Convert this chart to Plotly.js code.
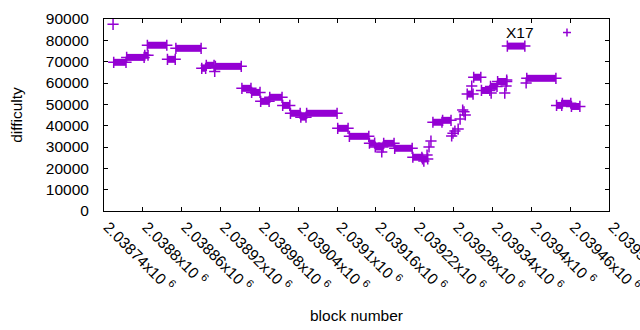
<!DOCTYPE html>
<html>
<head>
<meta charset="utf-8">
<script src="https://cdn.plot.ly/plotly-3.0.1.min.js"></script>
<style>html,body{margin:0;padding:0;background:#fff;}#chart{width:640px;height:330px;}</style>
</head>
<body>
<div id="chart"></div>
<script>
// Runs of (nearly) constant difficulty: first block, last block, difficulty
const runStart = [2038755, 2038775, 2038803, 2038807, 2038838, 2038851, 2038891, 2038898, 2038912, 2038953, 2038968, 2038982, 2038996, 2039016, 2039028, 2039044, 2039053, 2039101, 2039119, 2039150, 2039159, 2039172, 2039189, 2039217, 2039232, 2039248, 2039263, 2039301, 2039311, 2039323, 2039337, 2039348, 2039363, 2039393, 2039439, 2039448, 2039462];
const runEnd   = [2038774, 2038802, 2038808, 2038837, 2038850, 2038890, 2038897, 2038910, 2038952, 2038967, 2038981, 2038995, 2039015, 2039027, 2039043, 2039052, 2039100, 2039117, 2039149, 2039158, 2039171, 2039188, 2039216, 2039231, 2039240, 2039262, 2039276, 2039310, 2039322, 2039336, 2039347, 2039362, 2039390, 2039438, 2039447, 2039461, 2039475];
const runValue = [69700, 72000, 73000, 77700, 71100, 76250, 66900, 68300, 67800, 57500, 55600, 51400, 53300, 49500, 45800, 44000, 45800, 38750, 35000, 31800, 30000, 31700, 29400, 25200, 24400, 41600, 42500, 54800, 62700, 56500, 58400, 60700, 77300, 62200, 49500, 50500, 49000];

// Isolated blocks
const pointBlock = [2038754, 2038911, 2039169, 2039234, 2039239, 2039242, 2039245, 2039277, 2039279, 2039282, 2039287, 2039290, 2039294, 2039296, 2039298, 2039308, 2039338, 2039359, 2039361, 2039362, 2039392];
const pointValue = [87500, 65400, 27700, 23400, 26200, 30000, 32800, 35200, 36500, 37500, 38400, 43100, 47300, 46500, 45000, 58600, 55300, 55300, 58600, 61400, 60000];

const tickBlocks = [2038740, 2038800, 2038860, 2038920, 2038980, 2039040, 2039100, 2039160, 2039220, 2039280, 2039340, 2039400, 2039460, 2039520];
const tickLabels = ["2.03874x10 <sup>6</sup>", "2.0388x10 <sup>6</sup>", "2.03886x10 <sup>6</sup>", "2.03892x10 <sup>6</sup>", "2.03898x10 <sup>6</sup>", "2.03904x10 <sup>6</sup>", "2.0391x10 <sup>6</sup>", "2.03916x10 <sup>6</sup>", "2.03922x10 <sup>6</sup>", "2.03928x10 <sup>6</sup>", "2.03934x10 <sup>6</sup>", "2.0394x10 <sup>6</sup>", "2.03946x10 <sup>6</sup>", "2.03952x10 <sup>6</sup>"];

const seriesName = "X17";
const color = "#9400d3";

const rx = [], ry = [];
for (let i = 0; i < runStart.length; i++) {
  rx.push(runStart[i], runEnd[i], null);
  ry.push(runValue[i], runValue[i], null);
}

const marker = {symbol: "cross-thin", size: 8, color: color, line: {color: color, width: 1.5}};

const traces = [
  {x: rx, y: ry, type: "scatter", mode: "lines+markers", line: {color: color, width: 7}, marker: marker, connectgaps: false, showlegend: false, hoverinfo: "skip"},
  {x: pointBlock, y: pointValue, type: "scatter", mode: "markers", marker: marker, showlegend: false, hoverinfo: "skip"}
];

const font = {family: "Liberation Sans, Arial, sans-serif", size: 15.5, color: "#000"};

const layout = {
  width: 640, height: 330,
  margin: {l: 104, r: 31, t: 19, b: 119},
  paper_bgcolor: "#fff", plot_bgcolor: "#fff",
  font: font,
  showlegend: false,
  xaxis: {
    range: [2038740, 2039520], autorange: false,
    tickmode: "array", tickvals: tickBlocks, ticktext: tickLabels,
    tickangle: 45, ticks: "inside", ticklen: 4, tickcolor: "#000",
    ticklabeloverflow: "allow", ticklabelshift: 4,
    showline: true, linecolor: "#000", linewidth: 1, mirror: "ticks",
    showgrid: false, zeroline: false,
    tickfont: font,
    title: {text: "block number", font: font, standoff: 16}
  },
  yaxis: {
    range: [0, 90000], autorange: false,
    tickmode: "linear", tick0: 0, dtick: 10000, tickformat: "d",
    ticks: "inside", ticklen: 4, tickcolor: "#000",
    showline: true, linecolor: "#000", linewidth: 1, mirror: "ticks",
    showgrid: false, zeroline: false,
    tickfont: font, ticklabelstandoff: 11,
    title: {text: "difficulty", font: font, standoff: 19}
  },
  annotations: [
    {xref: "paper", yref: "paper", x: 0.855, y: 0.932, xanchor: "right", yanchor: "middle", text: seriesName, showarrow: false, font: font}
  ],
  shapes: [
    {type: "line", xref: "paper", yref: "paper", x0: 0.9089, x1: 0.9247, y0: 0.9296, y1: 0.9296, line: {color: color, width: 1.5}},
    {type: "line", xref: "paper", yref: "paper", x0: 0.9168, x1: 0.9168, y0: 0.9088, y1: 0.9504, line: {color: color, width: 1.5}}
  ]
};

Plotly.newPlot("chart", traces, layout, {displayModeBar: false, staticPlot: true});
</script>
</body>
</html>
